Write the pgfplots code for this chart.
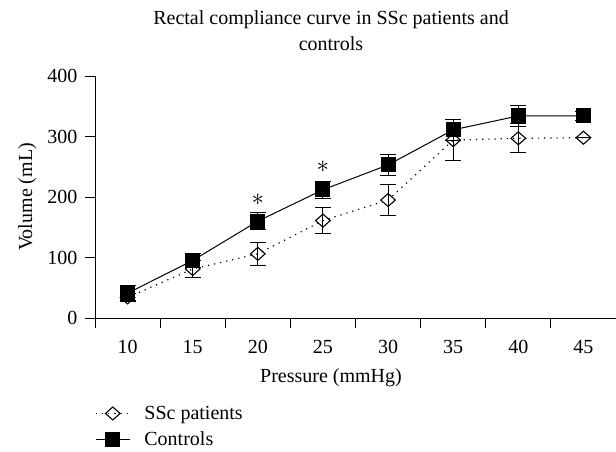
\documentclass[border=0pt]{standalone}
\usepackage{fontspec}
\setmainfont{Liberation Serif}
\usepackage{pgfplots}
\pgfplotsset{compat=1.18}
\begin{document}
\begin{tikzpicture}[x=1pt,y=1pt]
\useasboundingbox (0,0) rectangle (616,452);
\node[font=\fontsize{20}{26}\selectfont, align=center] at (331,421) {Rectal compliance curve in SSc patients and\\controls};
\begin{axis}[
  at={(95pt,134pt)}, anchor=south west,
  scale only axis, width=521pt, height=242pt,
  xmin=7.5, xmax=47.5, ymin=0, ymax=400,
  axis lines=left, axis line style={-, line width=0.8pt},
  xtick={7.5,12.5,...,47.5},
  xticklabels={10,15,20,25,30,35,40,45},
  x tick label as interval,
  ytick={0,100,...,400},
  tick align=outside, major tick length=10pt,
  tick style={line width=0.8pt, black},
  ticklabel style={font=\fontsize{20}{24}\selectfont},
  xticklabel style={yshift=-9pt},
  yticklabel style={xshift=-4pt},
  /pgf/number format/assume math mode=true,
  xlabel={Pressure (mmHg)}, ylabel={Volume (mL)},
  label style={font=\fontsize{20}{24}\selectfont},
  xlabel style={at={(axis description cs:0.453,-0.245)}, anchor=center},
  ylabel style={at={(axis description cs:-0.13,0.5)}, anchor=center},
  clip=false,
  legend style={at={(0,-0.355)}, anchor=north west, draw=none, fill=none,
    inner sep=0pt, row sep=7pt, font=\fontsize{20}{24}\selectfont,
    cells={anchor=west}},
  legend image code/.code={\draw[mark repeat=2,mark phase=2,#1] plot coordinates {(0pt,0pt)(17pt,0pt)(34pt,0pt)}; \path (46pt,0pt);},
]
\addplot[black, line width=1.2pt, dash pattern=on 1.2pt off 5pt,
  mark=diamond, mark size=6.5pt, mark options={solid, fill=white, line width=1.1pt, xscale=1.5},
  error bars/.cd, y dir=both, y explicit,
  error mark options={rotate=90, mark size=8pt, line width=1pt, solid},
  error bar style={solid, line width=1pt}]
coordinates {
 (10,34) +- (0,7)
 (15,81) +- (0,14)
 (20,106) +- (0,19)
 (25,161) +- (0,22)
 (30,195) +- (0,26)
 (35,294) +- (0,34)
 (40,297) +- (0,24)
 (45,298) +- (0,0)
};
\addlegendentry{SSc patients}
\addplot[black, line width=1pt,
  mark=square*, mark size=7pt, mark options={solid},
  error bars/.cd, y dir=both, y explicit,
  error mark options={rotate=90, mark size=8pt, line width=1pt},
  error bar style={line width=1pt}]
coordinates {
 (10,41) +- (0,12)
 (15,95) +- (0,12)
 (20,160) +- (0,14)
 (25,212) +- (0,14)
 (30,253) +- (0,18)
 (35,311) +- (0,17)
 (40,334) +- (0,18)
 (45,334) +- (0,7)
};
\addlegendentry{Controls}
\node[font=\fontsize{24}{24}\selectfont] at (axis cs:20,196) {$\ast$};
\node[font=\fontsize{24}{24}\selectfont] at (axis cs:25,250) {$\ast$};
\end{axis}
\end{tikzpicture}
\end{document}
